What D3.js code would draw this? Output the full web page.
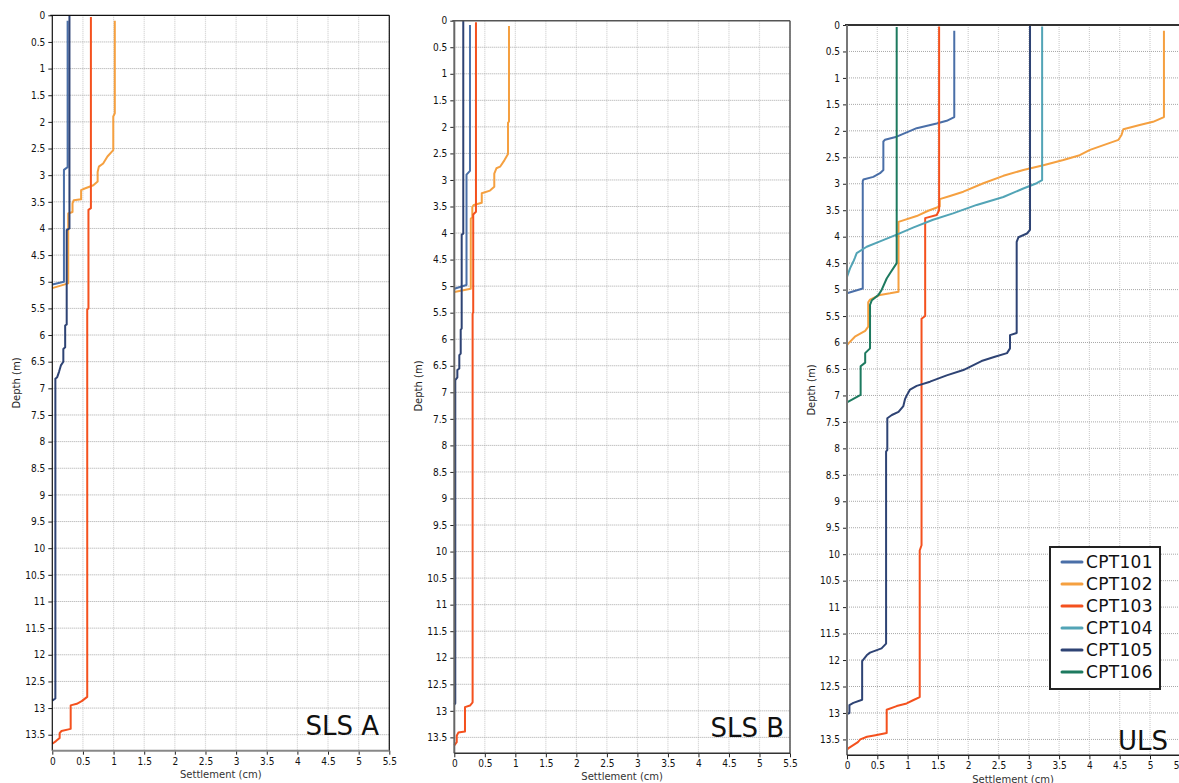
<!DOCTYPE html>
<html>
<head>
<meta charset="utf-8">
<script src="https://cdn.jsdelivr.net/npm/d3@7/dist/d3.min.js"></script>
<style>
  html, body { margin: 0; padding: 0; background: #fff; }
  svg { display: block; }
  text { font-family: "DejaVu Sans", sans-serif; }
</style>
</head>
<body>
<svg id="chart" width="1179" height="783"></svg>
<script>
// ---------- data ----------
const seriesNames = ["CPT101", "CPT102", "CPT103", "CPT104", "CPT105", "CPT106"];
const seriesColors = ["#4a6fa8", "#f5a040", "#f4511e", "#52a4b6", "#2e4374", "#1d7a5f"];
const panelTitles = ["SLS A", "SLS B", "ULS"];
const depthTickLabels = ["0","0.5","1","1.5","2","2.5","3","3.5","4","4.5","5","5.5","6","6.5","7","7.5","8","8.5","9","9.5","10","10.5","11","11.5","12","12.5","13","13.5"];
const settleTickLabels = ["0","0.5","1","1.5","2","2.5","3","3.5","4","4.5","5","5.5"];
const depthMax = 13.8;
const settleMax = 5.5;

// [settlement (cm), depth (m)]
const slsA_CPT101 = [[0.25,0.1],[0.25,2.85],[0.19,2.9],[0.19,5.0],[0,5.05]];
const slsA_CPT102 = [[1.02,0.1],[1.02,1.84],[0.995,1.9],[0.995,2.53],[0.9,2.65],[0.83,2.78],[0.76,2.84],[0.74,2.94],[0.74,3.12],[0.67,3.19],[0.53,3.25],[0.47,3.28],[0.47,3.45],[0.35,3.47],[0.33,3.53],[0.33,3.69],[0.26,3.72],[0.26,5.03],[0,5.12]];
const slsA_CPT103 = [[0.63,0.03],[0.63,3.62],[0.59,3.65],[0.59,5.5],[0.57,5.52],[0.57,12.79],[0.48,12.87],[0.4,12.92],[0.3,12.95],[0.3,13.39],[0.15,13.43],[0.12,13.47],[0.12,13.56],[0.06,13.62],[0,13.67]];
const slsA_CPT105 = [[0.28,0],[0.28,4.0],[0.235,4.03],[0.235,5.8],[0.21,5.82],[0.21,6.23],[0.18,6.26],[0.18,6.5],[0.14,6.57],[0.11,6.69],[0.08,6.79],[0.05,6.82],[0.05,12.82],[0,12.86]];

const slsB_CPT101 = [[0.257,0.08],[0.257,2.83],[0.2,2.9],[0.2,4.98],[0,5.05]];
const slsB_CPT102 = [[0.896,0.1],[0.896,1.9],[0.88,1.92],[0.88,2.51],[0.82,2.63],[0.75,2.75],[0.69,2.78],[0.655,2.88],[0.655,3.13],[0.585,3.2],[0.45,3.25],[0.45,3.43],[0.32,3.47],[0.295,3.51],[0.295,3.7],[0.27,3.73],[0.27,5.05],[0,5.11]];
const slsB_CPT103 = [[0.355,0.03],[0.355,3.6],[0.31,3.65],[0.31,5.49],[0.3,5.52],[0.3,12.84],[0.257,12.9],[0.175,12.93],[0.175,13.39],[0.066,13.41],[0.04,13.47],[0.04,13.59],[0,13.65]];
const slsB_CPT105 = [[0.147,0],[0.147,4.01],[0.121,4.03],[0.121,5.8],[0.105,5.82],[0.105,6.27],[0.082,6.3],[0.082,6.55],[0.05,6.58],[0.05,6.72],[0.016,6.77],[0.016,12.86],[0,12.88]];

const uls_CPT101 = [[1.77,0.11],[1.77,1.74],[1.645,1.81],[1.48,1.86],[1.15,1.95],[0.985,2.03],[0.82,2.11],[0.627,2.17],[0.6,2.2],[0.6,2.74],[0.545,2.8],[0.434,2.87],[0.27,2.92],[0.26,2.95],[0.26,4.98],[0,5.07]];
const uls_CPT102 = [[5.23,0.11],[5.23,1.74],[5.05,1.83],[4.83,1.89],[4.56,1.97],[4.53,2.08],[4.48,2.17],[4.28,2.25],[4.01,2.36],[3.84,2.46],[3.57,2.55],[3.24,2.65],[2.91,2.74],[2.58,2.85],[2.25,2.99],[1.92,3.15],[1.7,3.23],[1.53,3.29],[1.53,3.43],[1.34,3.51],[1.15,3.61],[0.85,3.72],[0.85,5.04],[0.71,5.07],[0.545,5.1],[0.38,5.19],[0.35,5.24],[0.35,5.7],[0.3,5.78],[0.13,5.89],[0.02,6.02],[0,6.05]];
const uls_CPT103 = [[1.52,0.03],[1.52,3.5],[1.48,3.59],[1.29,3.65],[1.29,5.5],[1.23,5.55],[1.23,9.83],[1.2,9.93],[1.2,12.7],[1.09,12.76],[0.985,12.82],[0.82,12.87],[0.655,12.94],[0.655,13.38],[0.47,13.42],[0.33,13.45],[0.22,13.5],[0.18,13.55],[0.02,13.67],[0,13.7]];
const uls_CPT104 = [[3.22,0.03],[3.22,2.93],[3.13,2.99],[2.91,3.09],[2.58,3.25],[2.14,3.4],[1.75,3.56],[1.42,3.68],[1.09,3.83],[0.82,3.96],[0.545,4.09],[0.325,4.19],[0.16,4.31],[0.13,4.4],[0.105,4.47],[0.05,4.6],[0,4.76]];
const uls_CPT105 = [[3.02,0],[3.02,3.87],[2.97,3.94],[2.83,4.01],[2.8,4.1],[2.8,5.82],[2.69,5.86],[2.69,6.11],[2.64,6.2],[2.44,6.27],[2.22,6.35],[1.92,6.52],[1.645,6.62],[1.37,6.74],[1.15,6.82],[1.04,6.89],[0.995,6.98],[0.957,7.07],[0.93,7.2],[0.85,7.31],[0.74,7.37],[0.665,7.43],[0.665,8.03],[0.645,8.06],[0.645,11.69],[0.57,11.78],[0.38,11.86],[0.325,11.91],[0.25,12.02],[0.25,12.75],[0.105,12.81],[0.04,12.85],[0.04,13.0],[0,13.02]];
const uls_CPT106 = [[0.82,0.04],[0.82,4.5],[0.71,4.69],[0.655,4.79],[0.57,5.01],[0.52,5.1],[0.41,5.2],[0.38,5.29],[0.38,6.11],[0.3,6.2],[0.3,6.38],[0.225,6.45],[0.225,6.99],[0,7.13]];

const panelSeries = [
  [["CPT101", slsA_CPT101], ["CPT102", slsA_CPT102], ["CPT103", slsA_CPT103], ["CPT105", slsA_CPT105]],
  [["CPT101", slsB_CPT101], ["CPT102", slsB_CPT102], ["CPT103", slsB_CPT103], ["CPT105", slsB_CPT105]],
  [["CPT101", uls_CPT101], ["CPT102", uls_CPT102], ["CPT103", uls_CPT103], ["CPT104", uls_CPT104], ["CPT105", uls_CPT105], ["CPT106", uls_CPT106]]
];

// ---------- layout ----------
const panels = [
  { left: 52.3, right: 389.3, top: 15.3, bottom: 750.7, ylabX: 17, ylabY: 383, xlabY: 775,
    topStroke: "#111", topW: 1.2, leftStroke: "#111", leftW: 1.2, botStroke: "#888", botW: 2, rightStroke: "#111", rightW: 1.2, titleX: 379, titleY: 735 },
  { left: 454.3, right: 790, top: 20.7, bottom: 753.3, ylabX: 419, ylabY: 386, xlabY: 777,
    topStroke: "#555", topW: 1.5, leftStroke: "#666", leftW: 2, botStroke: "#333", botW: 1.5, rightStroke: "#555", rightW: 1.5, titleX: 784, titleY: 737 },
  { left: 847, right: 847 + 5.5 * 60.6, top: 25, bottom: 755.3, ylabX: 812, ylabY: 390, xlabY: 780,
    topStroke: "#333", topW: 2, leftStroke: "#777", leftW: 2, botStroke: "#222", botW: 1.5, rightStroke: "#333", rightW: 1.5, titleX: 1168, titleY: 750 }
];

const svg = d3.select("#chart");
const colorOf = d3.scaleOrdinal().domain(seriesNames).range(seriesColors);

const defs = svg.append("defs");
defs.append("clipPath").attr("id", "ghostclip")
  .append("rect").attr("x", 407.5).attr("y", 300).attr("width", 30).attr("height", 150);

panels.forEach((p, i) => {
  const x = d3.scaleLinear().domain([0, settleMax]).range([p.left, p.right]);
  const y = d3.scaleLinear().domain([0, depthMax]).range([p.top, p.bottom]);
  const g = svg.append("g");
  const depthVals = depthTickLabels.map(Number);
  const settleVals = settleTickLabels.map(Number);

  // grid
  g.append("g").selectAll("line").data(settleVals.filter(v => v > 0)).join("line")
    .attr("x1", d => x(d)).attr("x2", d => x(d))
    .attr("y1", p.top).attr("y2", p.bottom)
    .attr("stroke", "#cfcfcf").attr("stroke-width", 1.2).attr("stroke-dasharray", "1,1");
  g.append("g").selectAll("line").data(depthVals.filter(v => v > 0)).join("line")
    .attr("x1", p.left).attr("x2", p.right)
    .attr("y1", d => y(d)).attr("y2", d => y(d))
    .attr("stroke", "#a8a8a8").attr("stroke-width", 1).attr("stroke-dasharray", "1,1");

  // series
  const line = d3.line().x(d => x(d[0])).y(d => y(d[1]));
  g.append("g").selectAll("path").data(panelSeries[i]).join("path")
    .attr("d", d => line(d[1]))
    .attr("fill", "none")
    .attr("stroke", d => colorOf(d[0]))
    .attr("stroke-width", 2)
    .attr("stroke-linejoin", "round");

  // axes
  const yAxis = d3.axisLeft(y).tickValues(depthVals)
    .tickFormat((d, k) => depthTickLabels[k]).tickSize(4).tickPadding(3);
  const ya = g.append("g").attr("transform", `translate(${p.left},0)`).call(yAxis);
  ya.select(".domain").remove();
  ya.selectAll(".tick line").attr("stroke", "#222");
  ya.selectAll(".tick text").attr("font-family", "'DejaVu Sans Condensed','DejaVu Sans',sans-serif")
    .attr("font-stretch", "condensed").attr("font-size", 10).attr("fill", "#111");

  const xAxis = d3.axisBottom(x).tickValues(settleVals)
    .tickFormat((d, k) => settleTickLabels[k]).tickSize(4).tickPadding(3);
  const xa = g.append("g").attr("transform", `translate(0,${p.bottom})`).call(xAxis);
  xa.select(".domain").remove();
  xa.selectAll(".tick line").attr("stroke", "#222");
  xa.selectAll(".tick text").attr("font-family", "'DejaVu Sans Condensed','DejaVu Sans',sans-serif")
    .attr("font-stretch", "condensed").attr("font-size", 10).attr("fill", "#111");

  // frame
  g.append("line").attr("x1", p.left - 2).attr("x2", Math.min(p.right, 1179)).attr("y1", p.top).attr("y2", p.top)
    .attr("stroke", p.topStroke).attr("stroke-width", p.topW);
  g.append("line").attr("x1", p.right).attr("x2", p.right).attr("y1", p.top).attr("y2", p.bottom)
    .attr("stroke", p.rightStroke).attr("stroke-width", p.rightW);
  g.append("line").attr("x1", p.left).attr("x2", p.left).attr("y1", p.top).attr("y2", p.bottom)
    .attr("stroke", p.leftStroke).attr("stroke-width", p.leftW);
  g.append("line").attr("x1", p.left).attr("x2", p.right).attr("y1", p.bottom).attr("y2", p.bottom)
    .attr("stroke", p.botStroke).attr("stroke-width", p.botW);

  // axis titles
  g.append("text").attr("transform", `translate(${p.ylabX},${p.ylabY}) rotate(-90)`)
    .attr("text-anchor", "middle").attr("dominant-baseline", "middle")
    .attr("font-size", 10).attr("fill", "#222").text("Depth (m)");
  if (i === 1) {
    g.append("text").attr("clip-path", "url(#ghostclip)")
      .attr("transform", `translate(${p.ylabX - 7},${p.ylabY - 9}) rotate(-90)`)
      .attr("text-anchor", "middle").attr("dominant-baseline", "middle")
      .attr("font-size", 10).attr("fill", "#222").text("Depth (m)");
  }
  g.append("text").attr("x", (p.left + Math.min(p.right, 1179)) / 2 - (i === 2 ? 0 : 0)).attr("y", p.xlabY)
    .attr("text-anchor", "middle").attr("dominant-baseline", "middle")
    .attr("font-size", 10).attr("fill", "#333").text("Settlement (cm)");

  // panel title
  g.append("text").attr("x", p.titleX).attr("y", p.titleY).attr("text-anchor", "end")
    .attr("font-size", 26).attr("fill", "#111").text(panelTitles[i]);

  // legend (ULS only)
  if (i === 2) {
    const lg = svg.append("g");
    lg.append("rect").attr("x", 1050).attr("y", 547).attr("width", 110).attr("height", 142)
      .attr("fill", "#fff").attr("stroke", "#222").attr("stroke-width", 2);
    const items = lg.selectAll("g.item").data(seriesNames).join("g").attr("class", "item")
      .attr("transform", (d, k) => `translate(0,${562 + k * 22})`);
    items.append("line").attr("x1", 1062).attr("x2", 1082).attr("y1", 0).attr("y2", 0)
      .attr("stroke", d => colorOf(d)).attr("stroke-width", 3).attr("stroke-linecap", "round");
    items.append("text").attr("x", 1086).attr("y", 0).attr("dominant-baseline", "central")
      .attr("font-size", 17).attr("letter-spacing", 0.3).attr("fill", "#111").text(d => d);
  }
});
</script>
</body>
</html>
